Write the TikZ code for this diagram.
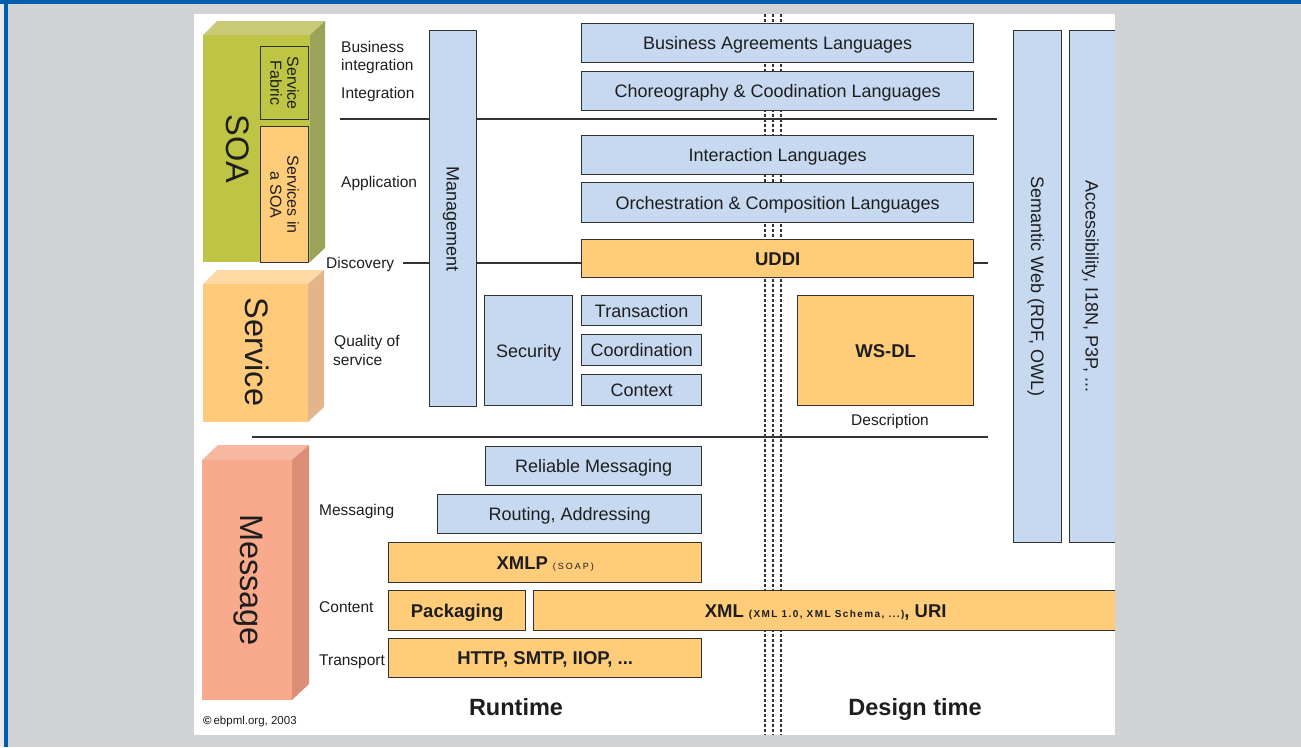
\documentclass[tikz,border=0pt]{standalone}
\usepackage{fontspec}
\setmainfont{Liberation Sans}

\definecolor{pagegray}{RGB}{210,211,213}
\definecolor{pageedge}{RGB}{232,233,235}
\definecolor{framebl}{RGB}{0,94,172}
\definecolor{boxblue}{RGB}{198,217,240}
\definecolor{boxorange}{RGB}{255,204,122}
\definecolor{edge}{RGB}{51,51,51}
\definecolor{ink}{RGB}{30,30,30}
\definecolor{soaF}{RGB}{190,196,68}
\definecolor{soaT}{RGB}{200,202,120}
\definecolor{soaS}{RGB}{155,163,90}
\definecolor{srvF}{RGB}{255,203,123}
\definecolor{srvT}{RGB}{255,216,164}
\definecolor{srvS}{RGB}{227,181,138}
\definecolor{msgF}{RGB}{249,170,141}
\definecolor{msgT}{RGB}{246,184,160}
\definecolor{msgS}{RGB}{222,142,118}

\newcommand{\fsz}[2]{\fontsize{#1}{#2}\selectfont}

\begin{document}
\begin{tikzpicture}[x=1pt, y=-1pt,
  box/.style={draw=edge, line width=1.3pt, inner sep=0pt, text=ink,
    font=\fsz{18}{20}, text height=12.9pt, text depth=0pt, anchor=north west},
  bluebox/.style={box, fill=boxblue},
  orangebox/.style={box, fill=boxorange},
  plainbox/.style={draw=edge, line width=1.3pt, inner sep=0pt, anchor=north west},
  vtext/.style={rotate=-90, inner sep=0pt, text=ink, font=\fsz{18}{20},
    text height=12.9pt, text depth=0pt},
  vsmall/.style={rotate=-90, inner sep=0pt, text=ink, align=center, font=\fsz{16}{17}},
  bigword/.style={rotate=-90, inner sep=0pt, text=ink, font=\fsz{32.5}{36}},
  lbl/.style={inner sep=0pt, text=ink, font=\fsz{15.5}{18}, anchor=base west},
  bold/.style={font=\bfseries\fsz{18.5}{20}},
  rule/.style={draw=edge, line width=1.3pt},
  timeline/.style={draw=edge, line width=1.1pt, dash pattern=on 3pt off 2pt},
]
\useasboundingbox (0,0) rectangle (1301,747);

% page, frame and white panel
\fill[pagegray] (0,0) rectangle (1301,747);
\fill[pageedge] (0,0) rectangle (4,747);
\fill[framebl] (0,0) rectangle (1301,3.5);
\fill[framebl] (4,0) rectangle (7.5,747);
\fill[white] (194,14) rectangle (1115,735);

% runtime / design time separators
\foreach \xx/\nm in {765/ta, 773/tb, 781/tc} {
  \coordinate (\nm top) at (\xx,14);
  \coordinate (\nm bot) at (\xx,735);
  \draw[timeline] (\nm top) -- (\nm bot);
}

% layer rules
\coordinate (r1a) at (340,119);  \coordinate (r1b) at (997,119);
\coordinate (r2a) at (403,263);  \coordinate (r2b) at (988,263);
\coordinate (r3a) at (252,437);  \coordinate (r3b) at (988,437);
\draw[rule] (r1a) -- (r1b);
\draw[rule] (r2a) -- (r2b);
\draw[rule] (r3a) -- (r3b);

% SOA block
\fill[soaT] (203,35) -- (217,21) -- (325,21) -- (310,35) -- cycle;
\fill[soaS] (310,35) -- (325,21) -- (325,248) -- (310,262) -- cycle;
\fill[soaF] (203,35) rectangle (310,262);
\node[bigword] (soa) at (238,149) {SOA};
\node[plainbox, fill=soaF, minimum width=48pt, minimum height=73pt] (fabric) at (260,46) {};
\node[vsmall] (fabrict) at (fabric.center) {Service\\Fabric};
\node[plainbox, fill=boxorange, minimum width=48pt, minimum height=136pt] (svcsoa) at (260,126) {};
\node[vsmall] (svcsoat) at (svcsoa.center) {Services in\\a SOA};

% Service block
\fill[srvT] (203,284) -- (217,270) -- (324,270) -- (308,284) -- cycle;
\fill[srvS] (308,284) -- (324,270) -- (324,407) -- (308,422) -- cycle;
\fill[srvF] (203,284) rectangle (308,422);
\node[bigword] (service) at (257,352) {Service};

% Message block
\fill[msgT] (202,460) -- (218,445) -- (309,445) -- (292,460) -- cycle;
\fill[msgS] (292,460) -- (309,445) -- (309,684) -- (292,700) -- cycle;
\fill[msgF] (202,460) rectangle (292,700);
\node[bigword] (message) at (248,580) {Message};

% layer labels
\node[lbl] (lbus) at (341,52) {Business};
\node[lbl] (lbus2) at (341,70) {integration};
\node[lbl] (lint) at (341,98) {Integration};
\node[lbl] (lapp) at (341,187) {Application};
\node[lbl] (ldisc) at (326,268) {Discovery};
\node[lbl] (lqos) at (334,346) {Quality of};
\node[lbl] (lqos2) at (333,365) {service};
\node[lbl] (lmsg) at (319,515) {Messaging};
\node[lbl] (lcont) at (319,612) {Content};
\node[lbl] (ltrans) at (319,665) {Transport};

% management column
\node[plainbox, fill=boxblue, minimum width=47pt, minimum height=376pt] (mgmt) at (429,30) {};
\node[vtext] (mgmtt) at (mgmt.center) {Management};

% languages stack
\node[bluebox, minimum width=392pt, minimum height=39pt] (bal) at (581,23) {Business Agreements Languages};
\node[bluebox, minimum width=392pt, minimum height=39pt] (chor) at (581,71) {Choreography \& Coodination Languages};
\node[bluebox, minimum width=392pt, minimum height=39pt] (inter) at (581,135) {Interaction Languages};
\node[bluebox, minimum width=392pt, minimum height=40pt] (orch) at (581,182) {Orchestration \& Composition Languages};
\node[orangebox, bold, minimum width=392pt, minimum height=38pt] (uddi) at (581,239) {UDDI};

% quality of service
\node[bluebox, minimum width=88pt, minimum height=110pt] (sec) at (484,295) {Security};
\node[bluebox, minimum width=120pt, minimum height=30pt] (trans) at (581,295) {Transaction};
\node[bluebox, minimum width=120pt, minimum height=31pt] (coord) at (581,334) {Coordination};
\node[bluebox, minimum width=120pt, minimum height=31pt] (ctx) at (581,374) {Context};
\node[orangebox, bold, minimum width=176pt, minimum height=110pt] (wsdl) at (797,295) {WS-DL};
\node[lbl, anchor=base] (ldesc) at (890,425) {Description};

% messaging stack
\node[bluebox, minimum width=216pt, minimum height=39pt] (rel) at (485,446) {Reliable Messaging};
\node[bluebox, minimum width=264pt, minimum height=39pt] (route) at (437,494) {Routing, Addressing};
\node[orangebox, minimum width=313pt, minimum height=40pt] (xmlp) at (388,542)
  {{\bfseries\fsz{18.5}{20}XMLP} {\fsz{9}{10}\addfontfeatures{LetterSpace=22}(SOAP)}};
\node[orangebox, bold, minimum width=137pt, minimum height=40pt] (pack) at (388,590) {Packaging};
\node[orangebox, bold, minimum width=313pt, minimum height=39pt] (http) at (388,638) {HTTP, SMTP, IIOP, ...};

% semantic web column
\node[plainbox, fill=boxblue, minimum width=48pt, minimum height=512pt] (sem) at (1013,30) {};
\node[vtext] (semt) at (sem.center) {Semantic Web (RDF, OWL)};

% boxes running past the panel edge
\begin{scope}
  \clip (194,14) rectangle (1115,735);
  \node[orangebox, minimum width=584pt, minimum height=40pt] (xml) at (533,590)
    {{\bfseries\fsz{18.5}{20}XML} {\bfseries\fsz{10}{11}\addfontfeatures{LetterSpace=14}(XML 1.0, XML Schema, ...)}{\bfseries\fsz{18.5}{20}, URI}};
  \node[plainbox, fill=boxblue, minimum width=48pt, minimum height=512pt] (acc) at (1069,30) {};
  \node[vtext] (acct) at ([xshift=-1.5pt]acc.center) {Accessibility, I18N, P3P, ...};
\end{scope}

% footer
\node[inner sep=0pt, text=ink, font=\bfseries\fsz{23.5}{26}, anchor=base] (runtime) at (516,715) {Runtime};
\node[inner sep=0pt, text=ink, font=\bfseries\fsz{23.5}{26}, anchor=base] (design) at (915,715) {Design time};
\node[inner sep=0pt, text=ink, font=\fsz{11.5}{13}, anchor=base west] (copy) at (203,724) {{\bfseries©}\,ebpml.org, 2003};
\end{tikzpicture}
\end{document}
